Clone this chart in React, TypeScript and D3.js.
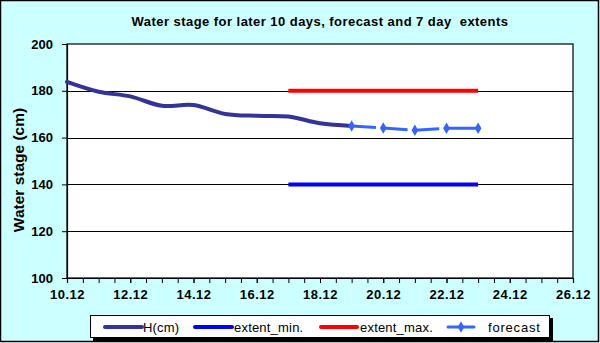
import React, { useEffect, useRef } from 'react';
import * as d3 from 'd3';

// observed stage, daily (day of December)
const hDays = [10, 11, 12, 13, 14, 15, 16, 17, 18, 19];
const hValues = [183.8, 179.6, 177.6, 173.6, 173.9, 170.1, 169.3, 169.0, 166.1, 165.0];

// forecast
const forecastDays = [19, 20, 21, 22, 23];
const forecastValues = [165.0, 164.1, 163.1, 164.0, 164.0];

// 7 day extents
const extentDays = [17, 18, 19, 20, 21, 22, 23];
const extentMin = [140, 140, 140, 140, 140, 140, 140];
const extentMax = [180, 180, 180, 180, 180, 180, 180];

const yTicks = [100, 120, 140, 160, 180, 200];
const legendLabels = ['H(cm)', 'extent_min.', 'extent_max.', 'forecast'];

const day = (d: number) => new Date(Date.UTC(2000, 11, d));

const App = () => {
    const svgRef = useRef<SVGSVGElement>(null);

    useEffect(() => {
        const width = 600;
        const height = 343;
        const margin = { top: 44, right: 27, bottom: 65, left: 67 };
        const innerWidth = width - margin.left - margin.right;
        const innerHeight = height - margin.top - margin.bottom;

        const svg = d3.select(svgRef.current);
        svg.selectAll('*').remove();
        svg.attr('width', width).attr('height', height);

        const font = 'Arial, "Liberation Sans", sans-serif';

        // background
        svg.append('rect')
            .attr('x', 0.5).attr('y', 0.5)
            .attr('width', width - 2).attr('height', height - 2)
            .attr('fill', '#CCFFFF')
            .attr('stroke', '#000')
            .attr('stroke-width', 1.5);

        // title
        svg.append('text')
            .attr('x', 320)
            .attr('y', 26)
            .attr('text-anchor', 'middle')
            .style('font-family', font)
            .style('font-size', '13px')
            .style('font-weight', 'bold')
            .style('letter-spacing', '0.45px')
            .style('white-space', 'pre')
            .text('Water stage for later 10 days, forecast and 7 day  extents');

        const g = svg.append('g')
            .attr('transform', `translate(${margin.left},${margin.top})`);

        const x = d3.scaleUtc()
            .domain([day(10), day(26)])
            .range([0, innerWidth]);

        const y = d3.scaleLinear()
            .domain([100, 200])
            .range([innerHeight, 0]);

        // plot area
        g.append('rect')
            .attr('width', innerWidth)
            .attr('height', innerHeight)
            .attr('fill', '#fff')
            .attr('stroke', '#000')
            .attr('stroke-width', 1.2);

        // gridlines
        g.append('g')
            .selectAll('line')
            .data(yTicks.slice(1, -1))
            .join('line')
            .attr('x1', 0).attr('x2', innerWidth)
            .attr('y1', d => Math.round(y(d)) + 0.5)
            .attr('y2', d => Math.round(y(d)) + 0.5)
            .attr('stroke', '#000')
            .attr('stroke-width', 1);

        // y-axis
        const yAxis = g.append('g')
            .call(d3.axisLeft(y).tickValues(yTicks).tickSize(5).tickPadding(9));
        yAxis.select('.domain').attr('stroke', '#000').attr('stroke-width', 1.2);
        yAxis.selectAll('text')
            .style('font-family', font)
            .style('font-size', '13px')
            .style('font-weight', 'bold')
            .attr('fill', '#000');

        // x-axis, minor ticks every 12h
        const xMinor = g.append('g')
            .attr('transform', `translate(0,${innerHeight})`)
            .call(d3.axisBottom(x).ticks(d3.utcHour.every(12)).tickSize(5).tickFormat(() => ''));
        xMinor.select('.domain').attr('stroke', '#000').attr('stroke-width', 1.2);

        const xAxis = g.append('g')
            .attr('transform', `translate(0,${innerHeight})`)
            .call(d3.axisBottom(x)
                .tickValues(d3.range(10, 27, 2).map(day))
                .tickSize(5)
                .tickPadding(7)
                .tickFormat(d => d3.utcFormat('%d.%m')(d as Date)));
        xAxis.select('.domain').remove();
        xAxis.selectAll('text')
            .style('font-family', font)
            .style('font-size', '13px')
            .style('font-weight', 'bold')
            .style('letter-spacing', '0.5px')
            .attr('fill', '#000');

        // y-axis label
        svg.append('text')
            .attr('transform', 'rotate(-90)')
            .attr('x', -170)
            .attr('y', 24)
            .attr('text-anchor', 'middle')
            .style('font-family', font)
            .style('font-size', '15.5px')
            .style('font-weight', 'bold')
            .text('Water stage (cm)');

        // extents
        const flat = d3.line<[number, number]>()
            .x(d => x(day(d[0])))
            .y(d => y(d[1]));

        g.append('path')
            .datum(extentDays.map((d, i) => [d, extentMin[i]] as [number, number]))
            .attr('d', flat)
            .attr('fill', 'none')
            .attr('stroke', '#0000FF')
            .attr('stroke-width', 4);

        g.append('path')
            .datum(extentDays.map((d, i) => [d, extentMax[i]] as [number, number]))
            .attr('d', flat)
            .attr('fill', 'none')
            .attr('stroke', '#FF0000')
            .attr('stroke-width', 4);

        // observed
        const smooth = d3.line<[number, number]>()
            .x(d => x(day(d[0])))
            .y(d => y(d[1]))
            .curve(d3.curveCatmullRom.alpha(0.5));

        g.append('path')
            .datum(hDays.map((d, i) => [d, hValues[i]] as [number, number]))
            .attr('d', smooth)
            .attr('fill', 'none')
            .attr('stroke', '#333399')
            .attr('stroke-width', 4)
            .attr('stroke-linecap', 'round');

        // forecast, dashed between markers
        const fc = forecastDays.map((d, i) => [d, forecastValues[i]] as [number, number]);
        g.append('g')
            .selectAll('line')
            .data(fc.slice(0, -1))
            .join('line')
            .attr('x1', (d) => x(day(d[0])))
            .attr('y1', (d) => y(d[1]))
            .attr('x2', (d, i) => x(day(d[0])) + (x(day(fc[i + 1][0])) - x(day(d[0]))) * (i === fc.length - 2 ? 1 : 0.77))
            .attr('y2', (d, i) => y(d[1]) + (y(fc[i + 1][1]) - y(d[1])) * (i === fc.length - 2 ? 1 : 0.77))
            .attr('stroke', '#3366FF')
            .attr('stroke-width', 3);

        const marker = d3.symbol().type(d3.symbolDiamond).size(38);
        g.append('g')
            .selectAll('path')
            .data(fc)
            .join('path')
            .attr('transform', d => `translate(${x(day(d[0]))},${y(d[1])})`)
            .attr('d', marker)
            .attr('fill', '#3366FF');

        // legend
        const lg = svg.append('g');
        lg.append('rect')
            .attr('x', 93).attr('y', 318)
            .attr('width', 460).attr('height', 23)
            .attr('fill', '#000');
        lg.append('rect')
            .attr('x', 90.5).attr('y', 315.5)
            .attr('width', 459).attr('height', 22)
            .attr('fill', '#fff')
            .attr('stroke', '#000')
            .attr('stroke-width', 1);

        const legendColors = ['#333399', '#0000FF', '#FF0000', '#3366FF'];
        const legendX = [105, 195, 321, 448];
        const legendLen = [37, 37, 36, 26];
        const legendTextX = [143, 234, 360, 488];

        const items = lg.selectAll('g.item')
            .data(legendLabels)
            .join('g')
            .attr('class', 'item');

        items.append('line')
            .attr('x1', (d, i) => legendX[i])
            .attr('x2', (d, i) => legendX[i] + legendLen[i])
            .attr('y1', 327).attr('y2', 327)
            .attr('stroke', (d, i) => legendColors[i])
            .attr('stroke-width', (d, i) => (i === 3 ? 3 : 4))
            .attr('stroke-linecap', 'round');

        items.filter((d, i) => i === 3)
            .append('path')
            .attr('transform', `translate(${legendX[3] + legendLen[3] / 2},327)`)
            .attr('d', marker)
            .attr('fill', '#3366FF');

        items.append('text')
            .attr('x', (d, i) => legendTextX[i])
            .attr('y', 332)
            .style('font-family', font)
            .style('font-size', '13px')
            .style('letter-spacing', (d, i) => (i === 3 ? '0.8px' : '0.2px'))
            .text(d => d);
    }, []);

    return (
        <div>
            <style>{'body{margin:0}'}</style>
            <svg ref={svgRef} style={{ display: 'block' }}></svg>
        </div>
    );
};

export default App;
